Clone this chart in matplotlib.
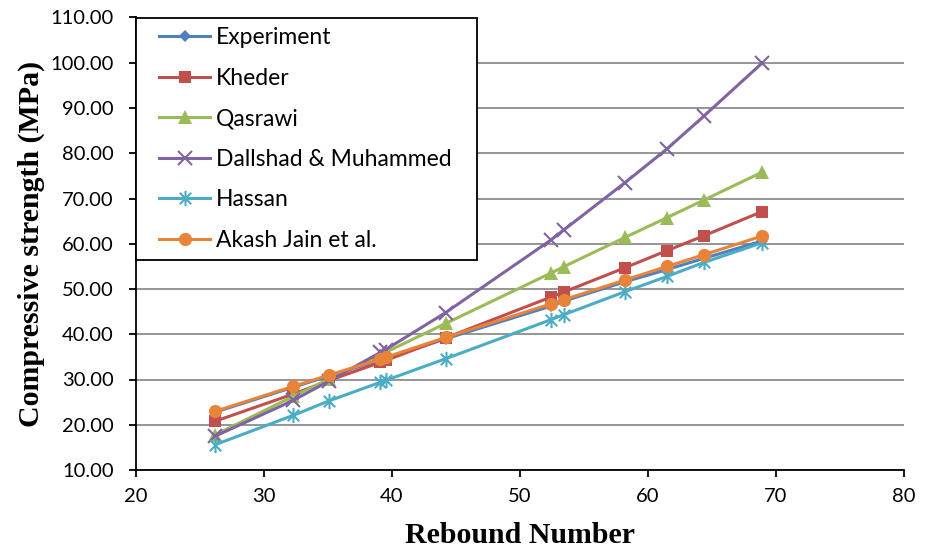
import matplotlib
matplotlib.use("Agg")
import matplotlib.pyplot as plt
from matplotlib.path import Path
from matplotlib.legend_handler import HandlerLine2D

rebound = [26.2, 32.3, 35.1, 39.1, 39.5, 44.2, 52.4, 53.4, 58.2, 61.5, 64.4, 68.9]
experiment = [22.8, 28.3, 30.8, 34.3, 34.7, 39.0, 46.2, 47.3, 51.6, 54.3, 56.8, 60.6]
kheder = [20.8, 26.8, 29.8, 33.8, 34.2, 39.2, 48.2, 49.3, 54.7, 58.5, 61.8, 67.1]
qasrawi = [17.8, 26.3, 30.1, 35.5, 36.0, 42.4, 53.5, 54.9, 61.4, 65.8, 69.7, 75.8]
dallshad = [17.5, 25.4, 29.7, 36.0, 36.6, 44.8, 60.8, 63.0, 73.5, 81.0, 88.3, 99.9]
hassan = [15.6, 22.1, 25.3, 29.4, 29.8, 34.6, 43.2, 44.3, 49.4, 52.8, 55.9, 60.2]
akash = [23.0, 28.5, 31.0, 34.5, 34.9, 39.3, 46.7, 47.6, 52.0, 55.0, 57.6, 61.7]

series_names = ["Experiment", "Kheder", "Qasrawi", "Dallshad & Muhammed", "Hassan", "Akash Jain et al."]
x_ticks = [20, 30, 40, 50, 60, 70, 80]
y_ticks = [10, 20, 30, 40, 50, 60, 70, 80, 90, 100, 110]

star = Path([(0, -1), (0, 1), (-0.75, -0.75), (0.75, 0.75), (-0.75, 0.75), (0.75, -0.75)],
            [Path.MOVETO, Path.LINETO, Path.MOVETO, Path.LINETO, Path.MOVETO, Path.LINETO])

styles = [
    dict(color="#4F81BD", marker="D", ms=6.5, mew=0),
    dict(color="#C0504D", marker="s", ms=9.2, mew=0),
    dict(color="#9BBB59", marker="^", ms=9.5, mew=0),
    dict(color="#8064A2", marker="x", ms=9.5, mew=1.5),
    dict(color="#4BACC6", marker=star, ms=11, mew=1.5),
    dict(color="#E8843A", marker="o", ms=9.5, mew=0),
]
data = [experiment, kheder, qasrawi, dallshad, hassan, akash]

fig = plt.figure(figsize=(9.31, 5.54), dpi=100)
ax = fig.add_axes([136/931, 1-470/554, (904-136)/931, (470-17.5)/554])

for name, ys, st in zip(series_names, data, styles):
    ax.plot(rebound, ys, label=name, lw=2.2, color=st["color"], marker=st["marker"],
            markersize=st["ms"], markeredgewidth=st["mew"], markeredgecolor=st["color"],
            markerfacecolor=st["color"], clip_on=False, zorder=3)

ax.set_xlim(20, 80)
ax.set_ylim(10, 110)
ax.set_xticks(x_ticks)
ax.set_yticks(y_ticks)
ax.set_yticklabels([f"{v:.2f}" for v in y_ticks])
ax.yaxis.grid(True, color="#8C8C8C", lw=1.3)
ax.set_axisbelow(True)
for s in ["top", "right"]:
    ax.spines[s].set_visible(False)
for s in ["left", "bottom"]:
    ax.spines[s].set_color("black")
    ax.spines[s].set_linewidth(1.3)
ax.tick_params(direction="out", length=5, width=1.3, colors="black", labelsize=14.5)
ax.tick_params(axis="y", pad=11)
ax.tick_params(axis="x", pad=8)
for lab in ax.get_xticklabels() + ax.get_yticklabels():
    lab.set_family("Lato")

ax.set_xlabel("Rebound Number", family="Liberation Serif", fontweight="bold", fontsize=21.5, labelpad=12)
ax.set_ylabel("Compressive strength (MPa)", family="Liberation Serif", fontweight="bold", fontsize=21.5, labelpad=4)

fs = 16.5
leg_w = (477 - 136) / 768
leg = ax.legend(loc="upper left", bbox_to_anchor=(0, 1, leg_w, 0), mode="expand", borderaxespad=0,
                frameon=True, fancybox=False, prop={"family": "Lato", "size": fs},
                handlelength=2.8, handletextpad=0.25, labelspacing=0.85, borderpad=0.42,
                handler_map={plt.Line2D: HandlerLine2D(xpad=0.6)})
leg.get_frame().set_edgecolor("black")
leg.get_frame().set_linewidth(1.3)
leg.get_frame().set_alpha(1)

fig.savefig("out.png", dpi=100)
